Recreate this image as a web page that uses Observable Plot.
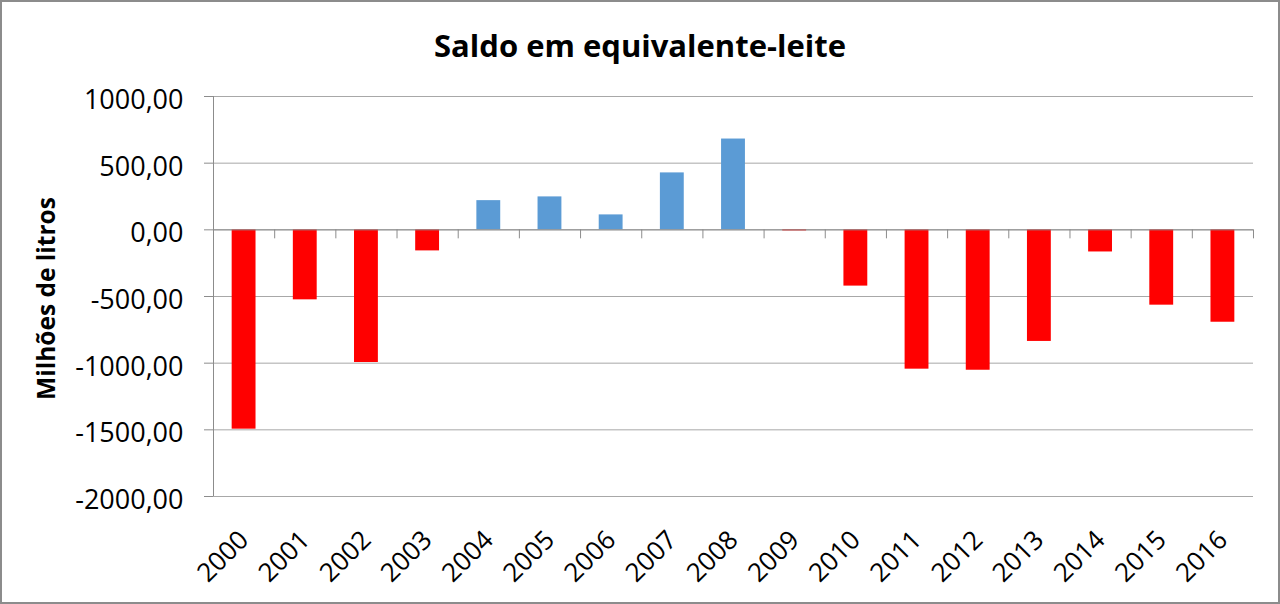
<!DOCTYPE html>
<html><head><meta charset="utf-8">
<script src="https://cdn.jsdelivr.net/npm/d3@7"></script>
<script src="https://cdn.jsdelivr.net/npm/@observablehq/plot@0.6"></script>
<style>
html,body{margin:0;padding:0;background:#fff;}
#frame{width:1280px;height:604px;box-sizing:border-box;border:2px solid #8c8c8c;overflow:hidden;font-family:'Open Sans',sans-serif;background:#fff;}
#title{height:74px;box-sizing:border-box;padding-top:13px;line-height:60px;font-size:31px;font-weight:bold;text-align:center;color:#000;}
#chart svg{display:block;}
</style></head><body>
<div id="frame"><div id="title"></div><div id="chart"></div></div>
<script>
const title = "Saldo em equivalente-leite";
const yLabel = "Milhões de litros";
const years = ["2000","2001","2002","2003","2004","2005","2006","2007","2008","2009","2010","2011","2012","2013","2014","2015","2016"];
const saldo = [-1495, -525, -995, -158, 219, 247, 112, 427, 681, -8, -422, -1045, -1053, -837, -166, -565, -693];
const yTicks = [1000, 500, 0, -500, -1000, -1500, -2000];

document.getElementById("title").textContent = title;

const W = 1276, H = 526, mL = 211, mR = 25, mT = 20, mB = 106;
const step = (W - mL - mR) / years.length;
const unitsPerPx = 3000 / (H - mT - mB);
const rows = years.map((y, i) => ({year: y, value: saldo[i]}));
const fmt = d => d.toFixed(2).replace(".", ",");
const axisGray = "#8c8c8c";

const chart = Plot.plot({
  width: W, height: H, marginLeft: mL, marginRight: mR, marginTop: mT, marginBottom: mB,
  style: {fontFamily: "'Open Sans', sans-serif", color: "#000", background: "#fff", overflow: "visible"},
  x: {domain: years, paddingInner: 0.61, paddingOuter: 0.305, round: false, axis: null},
  y: {domain: [-2000, 1000], label: null},
  color: {type: "identity"},
  marks: [
    Plot.ruleY(yTicks, {stroke: "#a8a8a8", strokeWidth: 1}),
    Plot.barY(rows, {x: "year", y: "value", fill: d => d.value >= 0 ? "#5b9bd5" : "#ff0000"}),
    Plot.ruleY([0], {stroke: axisGray}),
    Plot.ruleX(years, {x: d => d, y1: 0, y2: -9 * unitsPerPx, dx: -step / 2, stroke: axisGray}),
    Plot.ruleX([years[years.length - 1]], {x: d => d, y1: 0, y2: -9 * unitsPerPx, dx: step / 2, stroke: axisGray}),
    Plot.ruleX([years[0]], {x: d => d, y1: -2000, y2: 1000, dx: -step / 2, stroke: axisGray}),
    Plot.axisY({ticks: yTicks, tickSize: 9, tickFormat: () => "", stroke: axisGray, label: null}),
    Plot.text(yTicks, {y: d => d, frameAnchor: "left", dx: -30, dy: 4, textAnchor: "end", text: fmt, fontSize: 27, fill: "#000"}),
    Plot.text(years, {x: d => d, y: () => -2000, text: d => d, rotate: -45, textAnchor: "end", lineAnchor: "bottom", dx: 6, dy: 45, fontSize: 26, fill: "#000"}),
    Plot.text([yLabel], {frameAnchor: "left", text: d => d, rotate: -90, textAnchor: "middle", lineAnchor: "bottom", dx: -159, dy: 2, fontSize: 24.5, fontWeight: "bold", fill: "#000"})
  ]
});
document.getElementById("chart").appendChild(chart);
</script>
</body></html>
